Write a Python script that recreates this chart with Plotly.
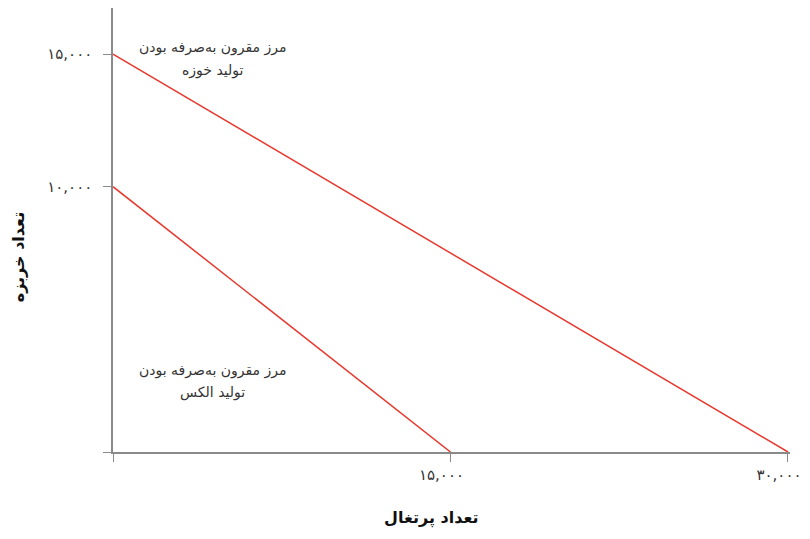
import plotly.graph_objects as go

# مرز امکانات تولید دو نفر
orange_jose = [0, 30000]
melon_jose = [15000, 0]
orange_alex = [0, 15000]
melon_alex = [10000, 0]

x_ticks = [0, 15000, 30000]
x_labels = ["", "۱۵,۰۰۰", "۳۰,۰۰۰"]
y_ticks = [0, 10000, 15000]
y_labels = ["", "۱۰,۰۰۰", "۱۵,۰۰۰"]

label_line1 = "مرز مقرون به\u200cصرفه بودن"
label_jose = "تولید خوزه"
label_alex = "تولید الکس"

red = "#e8382d"
axis_grey = "#8a8a8a"
font = "DejaVu Sans"
txt = dict(family=font, size=14, color="#333")

fig = go.Figure()
fig.add_trace(go.Scatter(x=orange_jose, y=melon_jose, mode="lines",
                         line=dict(color=red, width=1.5), hoverinfo="skip"))
fig.add_trace(go.Scatter(x=orange_alex, y=melon_alex, mode="lines",
                         line=dict(color=red, width=1.5), hoverinfo="skip"))

# برچسب خط‌ها، هر سطر جدا تا فاصله سطرها مثل مرجع شود
fig.add_annotation(x=4430, y=15230, text=label_line1, showarrow=False, font=txt)
fig.add_annotation(x=4430, y=14370, text=label_jose, showarrow=False, font=txt)
fig.add_annotation(x=4430, y=3090, text=label_line1, showarrow=False, font=txt)
fig.add_annotation(x=4430, y=2230, text=label_alex, showarrow=False, font=txt)

# عنوان محورها
fig.add_annotation(x=0.47, y=-0.149, xref="paper", yref="paper",
                   xanchor="center", yanchor="middle",
                   text="<b>تعداد پرتغال</b>", showarrow=False,
                   font=dict(family=font, size=16, color="#111"))
fig.add_annotation(x=-0.14, y=0.439, xref="paper", yref="paper",
                   xanchor="center", yanchor="middle",
                   text="<b>تعداد خربزه</b>", showarrow=False, textangle=-90,
                   font=dict(family=font, size=16, color="#111"))

fig.update_layout(
    width=810, height=539,
    margin=dict(l=105, r=28, t=0, b=95),
    plot_bgcolor="white", paper_bgcolor="white",
    showlegend=False,
    xaxis=dict(range=[0, 30090], tickvals=x_ticks, ticktext=x_labels,
               showgrid=False, zeroline=False, showline=True,
               linecolor=axis_grey, linewidth=1.5,
               ticks="outside", ticklen=8, tickcolor=axis_grey,
               ticklabelshift=-9, ticklabelstandoff=0,
               tickfont=dict(family=font, size=15, color="#333"),
               fixedrange=True),
    yaxis=dict(range=[0, 16735], tickvals=y_ticks, ticktext=y_labels,
               showgrid=False, zeroline=False, showline=True,
               linecolor=axis_grey, linewidth=1.5,
               ticks="outside", ticklen=8, tickcolor=axis_grey,
               ticklabelstandoff=8,
               tickfont=dict(family=font, size=15, color="#333"),
               fixedrange=True),
)

fig.write_html("out.html")
